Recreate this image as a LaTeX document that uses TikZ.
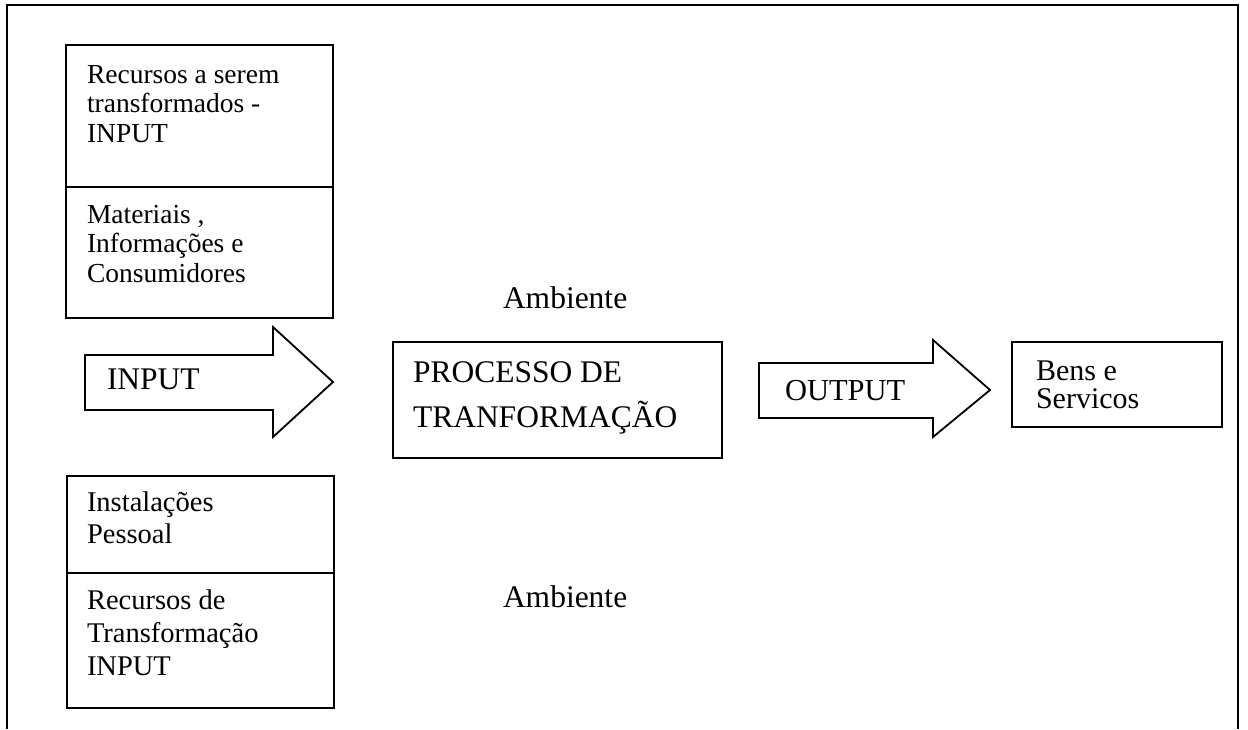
\documentclass[tikz,border=0pt]{standalone}
\usepackage{fontspec}
\setmainfont{Liberation Serif}
\newcommand{\txtsize}[2]{\fontsize{#1}{#2}\selectfont}
\newcommand{\lines}[1]{\begin{tabular}[t]{@{}l@{}}#1\end{tabular}}
\begin{document}
\begin{tikzpicture}[x=1pt,y=-1pt,
  boxline/.style={draw=black,line width=1.8pt},
  frameline/.style={draw=black,line width=1.5pt},
  txt/.style={anchor=base west,inner sep=0pt,outer sep=0pt},
  small/.style={font=\txtsize{27.5}{29.5}},
  big/.style={font=\txtsize{31.5}{45}}]
\useasboundingbox (0,0) rectangle (1248,729);

% outer frame, open at the bottom edge
\draw[frameline] (7,729) -- (7,5) -- (1238,5) -- (1238,729);

% resources to be transformed
\draw[boxline] (66,45) rectangle (333,318);
\draw[boxline] (66,187) -- (333,187);
\node[txt,small] (rt) at (87,83) {\lines{Recursos a serem\\transformados -\\INPUT}};
\node[txt,font=\txtsize{27.5}{29.5}] (mat) at (87,223) {\lines{Materiais ,\\Informações e\\Consumidores}};

% transforming resources
\draw[boxline] (67,476) rectangle (334,708);
\draw[boxline] (67,573) -- (334,573);
\node[txt,font=\txtsize{28.5}{32}] (inst) at (87,511) {\lines{Instalações\\Pessoal}};
\node[txt,font=\txtsize{28.5}{33}] (rtr) at (87,609) {\lines{Recursos de\\Transformação\\INPUT}};

% input block arrow
\draw[boxline,line join=miter] (85,355) -- (273,355) -- (273,327) -- (333,382)
  -- (273,437) -- (273,410) -- (85,410) -- cycle;
\node[txt,font=\txtsize{31.5}{36}] (inp) at (107,389) {INPUT};

% environment labels
\node[txt,font=\txtsize{31.5}{36}] (amb1) at (503,308) {Ambiente};
\node[txt,font=\txtsize{31.5}{36}] (amb2) at (503,607) {Ambiente};

% transformation process
\draw[boxline] (393,342) rectangle (722,458);
\node[txt,big] (proc) at (413,382) {\lines{PROCESSO DE\\TRANFORMAÇÃO}};

% output block arrow
\draw[boxline,line join=miter] (759,363) -- (933,363) -- (933,340) -- (990,390)
  -- (933,437) -- (933,418) -- (759,418) -- cycle;
\node[txt,font=\txtsize{30.5}{36}] (outp) at (785,400) {OUTPUT};

% goods and services
\draw[boxline] (1012,342) rectangle (1222,427);
\node[txt,font=\txtsize{30}{28.5}] (bens) at (1036,380) {\lines{Bens e\\Servicos}};
\end{tikzpicture}
\end{document}
